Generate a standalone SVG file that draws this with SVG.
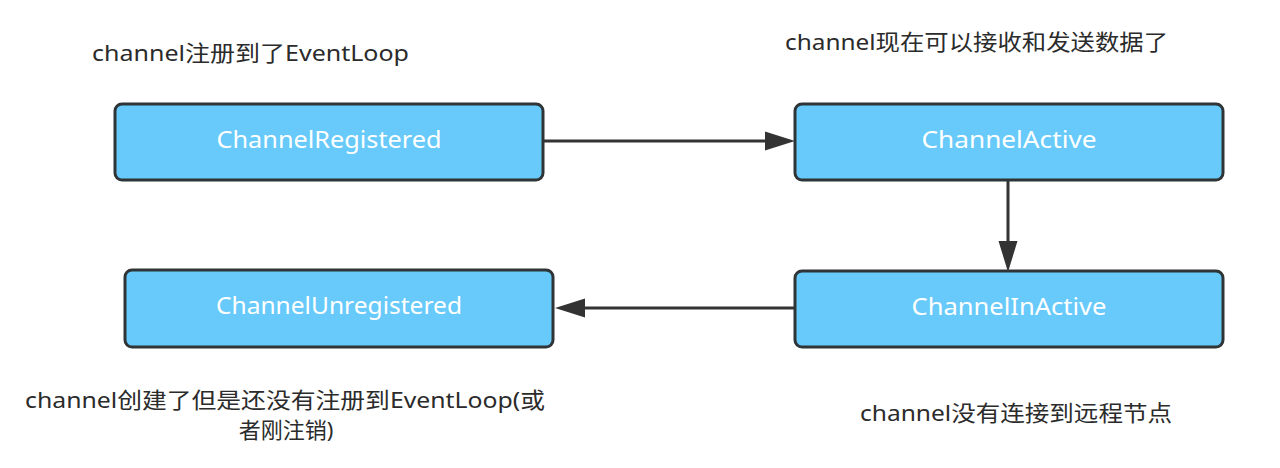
<svg xmlns="http://www.w3.org/2000/svg" width="1280" height="468" viewBox="0 0 1280 468">
<defs>
<style>
.box{fill:#67CAFA;stroke:#2F3437;stroke-width:3}
.lbl{font-family:"Noto Sans","Noto Sans CJK SC",sans-serif;font-size:23px;fill:#FFFFFF;text-anchor:middle}
.note{font-family:"Noto Sans","Noto Sans CJK SC",sans-serif;font-size:22px;fill:#2B2B2B}
.edge{stroke:#333333;stroke-width:3;fill:none}
</style>
<marker id="arr" viewBox="0 0 10 10" refX="10" refY="5" markerWidth="10" markerHeight="10" markerUnits="userSpaceOnUse" orient="auto">
<path d="M0,0 L10,5 L0,10 z" fill="#333333"/>
</marker>
</defs>
<rect width="1280" height="468" fill="#FFFFFF"/>
<g id="connectors">
<path class="edge" d="M543,141 H770"/>
<path d="M795,141 L765,131.5 L765,150.5 z" fill="#333333"/>
<path class="edge" d="M1008,180 V245"/>
<path d="M1008,272 L998.5,241 L1017.5,241 z" fill="#333333"/>
<path class="edge" d="M795,308 H580"/>
<path d="M555,308 L585,298.5 L585,317.5 z" fill="#333333"/>
</g>
<g id="node-registered">
<rect class="box" x="115" y="104" width="428" height="76" rx="7"/>
<text class="lbl" x="329" y="148" textLength="225" lengthAdjust="spacingAndGlyphs">ChannelRegistered</text>
</g>
<g id="node-active">
<rect class="box" x="795" y="104" width="428" height="76" rx="7"/>
<text class="lbl" x="1009" y="148" textLength="175" lengthAdjust="spacingAndGlyphs">ChannelActive</text>
</g>
<g id="node-inactive">
<rect class="box" x="795" y="271" width="428" height="76" rx="7"/>
<text class="lbl" x="1009" y="315" textLength="195" lengthAdjust="spacingAndGlyphs">ChannelInActive</text>
</g>
<g id="node-unregistered">
<rect class="box" x="125" y="270" width="428" height="77" rx="7"/>
<text class="lbl" x="339" y="314" textLength="246" lengthAdjust="spacingAndGlyphs">ChannelUnregistered</text>
</g>
<g id="notes">
<text class="note" x="92" y="61" textLength="317" lengthAdjust="spacingAndGlyphs">channel注册到了EventLoop</text>
<text class="note" x="785" y="50" textLength="383" lengthAdjust="spacingAndGlyphs">channel现在可以接收和发送数据了</text>
<text class="note" x="25" y="408" textLength="520" lengthAdjust="spacingAndGlyphs">channel创建了但是还没有注册到EventLoop(或</text>
<text class="note" x="286" y="438" text-anchor="middle">者刚注销)</text>
<text class="note" x="860" y="421" textLength="312" lengthAdjust="spacingAndGlyphs">channel没有连接到远程节点</text>
</g>
</svg>
